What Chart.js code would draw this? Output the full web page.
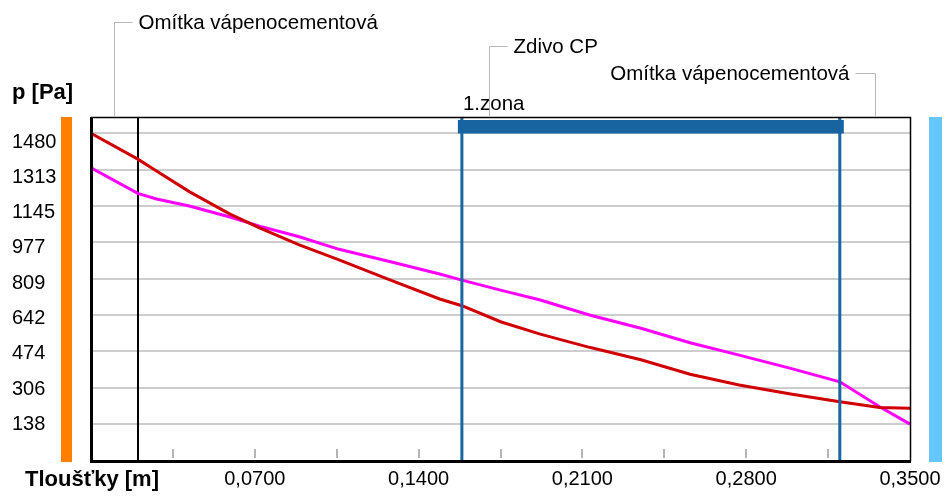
<!DOCTYPE html>
<html><head><meta charset="utf-8">
<script src="https://cdn.jsdelivr.net/npm/chart.js@4/dist/chart.umd.min.js"></script>
<style>html,body{margin:0;padding:0;background:#fff;overflow:hidden}#wrap{position:relative;width:947px;height:497px}</style>
</head><body><div id="wrap"><canvas id="c" width="947" height="497"></canvas></div>
<script>
// ---- data ----
const thickness = [0, 0.02, 0.028, 0.042, 0.059, 0.072, 0.089, 0.106, 0.128, 0.149, 0.1585, 0.175, 0.192, 0.213, 0.235, 0.256, 0.277, 0.299, 0.32, 0.337, 0.35];
const saturatedPressure = [1480, 1361, 1306, 1211, 1110, 1044, 965, 896, 803, 716, 685, 611, 554, 493, 436, 369, 319, 278, 242, 216, 212];
const partialPressure = [1321, 1203, 1177, 1145, 1095, 1052, 1003, 945, 888, 831, 803, 757, 711, 642, 581, 514, 457, 396, 334, 219, 139];
const yTickValues = [1480, 1313, 1145, 977, 809, 642, 474, 306, 138];
const xTickValues = [0, 0.035, 0.07, 0.105, 0.14, 0.175, 0.21, 0.245, 0.28, 0.315, 0.35];
const xTickLabels = ['', '', '0,0700', '', '0,1400', '', '0,2100', '', '0,2800', '', '0,3500'];
const layerBounds = [0, 0.02, 0.32, 0.35];
const layerNames = ['Omítka vápenocementová', 'Zdivo CP', 'Omítka vápenocementová'];
const zoneBounds = [0.1585, 0.32];
const zoneName = '1.zona';
const yAxisTitle = 'p [Pa]';
const xAxisTitle = 'Tloušťky [m]';

const FONT = '"Liberation Sans", Arial, sans-serif';

const decor = {
  id: 'decor',
  beforeDatasetsDraw(chart) {
    const {ctx, chartArea: a, scales: {x}} = chart;
    ctx.save();
    ctx.strokeStyle = '#000';
    ctx.lineWidth = 2;
    for (let i = 1; i < layerBounds.length - 1; i++) {
      const px = Math.round(x.getPixelForValue(layerBounds[i]));
      ctx.beginPath(); ctx.moveTo(px, a.top); ctx.lineTo(px, a.bottom); ctx.stroke();
    }
    ctx.restore();
  },
  afterDatasetsDraw(chart) {
    const {ctx, chartArea: a, scales: {x}} = chart;
    ctx.save();
    const z0 = x.getPixelForValue(zoneBounds[0]);
    const z1 = x.getPixelForValue(zoneBounds[1]);
    ctx.strokeStyle = '#1a66a3';
    ctx.lineWidth = 3;
    [z0, z1].forEach(px => { ctx.beginPath(); ctx.moveTo(px, a.top); ctx.lineTo(px, a.bottom); ctx.stroke(); });
    ctx.fillStyle = '#1764a0';
    ctx.fillRect(z0 - 4, a.top + 2, (z1 - z0) + 8, 13.5);
    ctx.strokeStyle = '#b4b4b4';
    ctx.lineWidth = 2;
    x.ticks.forEach(t => {
      if (t.value <= x.min || t.value >= x.max) return;
      const px = Math.round(x.getPixelForValue(t.value));
      ctx.beginPath(); ctx.moveTo(px, a.bottom - 12); ctx.lineTo(px, a.bottom - 3); ctx.stroke();
    });
    ctx.strokeStyle = '#000';
    ctx.lineWidth = 1.5;
    ctx.beginPath(); ctx.moveTo(a.left, a.top - 0.5); ctx.lineTo(a.right + 0.5, a.top - 0.5); ctx.lineTo(a.right + 0.5, a.bottom); ctx.stroke();
    ctx.lineWidth = 3;
    ctx.beginPath(); ctx.moveTo(a.left + 0.5, a.top - 1); ctx.lineTo(a.left + 0.5, a.bottom + 0.5); ctx.lineTo(a.right + 1, a.bottom + 0.5); ctx.stroke();
    ctx.fillStyle = '#ff8000';
    ctx.fillRect(a.left - 30, a.top - 1, 11, a.bottom - a.top + 2);
    ctx.fillStyle = '#66c6ff';
    ctx.fillRect(a.right + 19, a.top - 1, 13, a.bottom - a.top + 2);
    ctx.font = '20.5px ' + FONT;
    ctx.textBaseline = 'middle';
    ctx.fillStyle = '#000';
    ctx.strokeStyle = '#b8b8b8';
    ctx.lineWidth = 1;
    const levels = [22, 46, 73];
    for (let i = 0; i < layerNames.length; i++) {
      const mid = Math.round(x.getPixelForValue((layerBounds[i] + layerBounds[i + 1]) / 2)) + 0.5;
      const ly = levels[i] + 0.5;
      const last = i === layerNames.length - 1;
      ctx.beginPath();
      ctx.moveTo(mid, a.top - 1);
      ctx.lineTo(mid, ly);
      ctx.lineTo(last ? mid - 20 : mid + 18, ly);
      ctx.stroke();
      ctx.textAlign = last ? 'right' : 'left';
      ctx.fillText(layerNames[i], last ? mid - 26 : mid + 24, ly + 1);
    }
    ctx.textAlign = 'left';
    ctx.fillText(zoneName, z0 + 1, 104);
    ctx.font = 'bold 22px ' + FONT;
    ctx.fillText(yAxisTitle, 12, 93);
    ctx.fillText(xAxisTitle, 25, 480);
    ctx.restore();
  }
};

new Chart(document.getElementById('c'), {
  type: 'line',
  data: {
    datasets: [
      {
        label: 'p sat',
        data: thickness.map((t, i) => ({x: t, y: saturatedPressure[i]})),
        borderColor: '#d00000', borderWidth: 3, pointRadius: 0, tension: 0, fill: false,
        xAxisID: 'x', yAxisID: 'y'
      },
      {
        label: 'p',
        data: thickness.map((t, i) => ({x: t, y: partialPressure[i]})),
        borderColor: '#ff00ff', borderWidth: 3, pointRadius: 0, tension: 0, fill: false,
        xAxisID: 'x', yAxisID: 'y'
      }
    ]
  },
  options: {
    responsive: false,
    animation: false,
    devicePixelRatio: 1,
    layout: {padding: {left: 12, right: 37, top: 118, bottom: 0}},
    plugins: {legend: {display: false}, tooltip: {enabled: false}},
    scales: {
      x: {
        type: 'linear', position: 'bottom', min: 0, max: 0.35,
        afterBuildTicks: ax => { ax.ticks = xTickValues.map(v => ({value: v})); },
        ticks: {callback: (v, i) => xTickLabels[i], autoSkip: false, maxRotation: 0, minRotation: 0,
                padding: 6, color: '#000', font: {family: FONT, size: 20}},
        grid: {display: false, drawTicks: false},
        border: {display: false},
        afterFit: s => { s.height = 36; }
      },
      y: {
        type: 'linear', position: 'left', min: -31.2, max: 1550.6,
        afterBuildTicks: ax => { ax.ticks = yTickValues.map(v => ({value: v})); },
        ticks: {display: false},
        grid: {color: '#cdcdcd', lineWidth: 2, drawTicks: false},
        border: {display: false},
        afterFit: s => { s.width = 0; }
      },
      yl: {
        type: 'linear', position: 'left', min: -35.4, max: 1594,
        afterBuildTicks: ax => { ax.ticks = yTickValues.map(v => ({value: v})); },
        ticks: {autoSkip: false, crossAlign: 'far', padding: 0, color: '#000',
                font: {family: FONT, size: 20}, callback: v => String(v)},
        grid: {display: false, drawTicks: false},
        border: {display: false},
        afterFit: s => { s.width = 79; }
      }
    }
  },
  plugins: [decor]
});
</script>
</body></html>
